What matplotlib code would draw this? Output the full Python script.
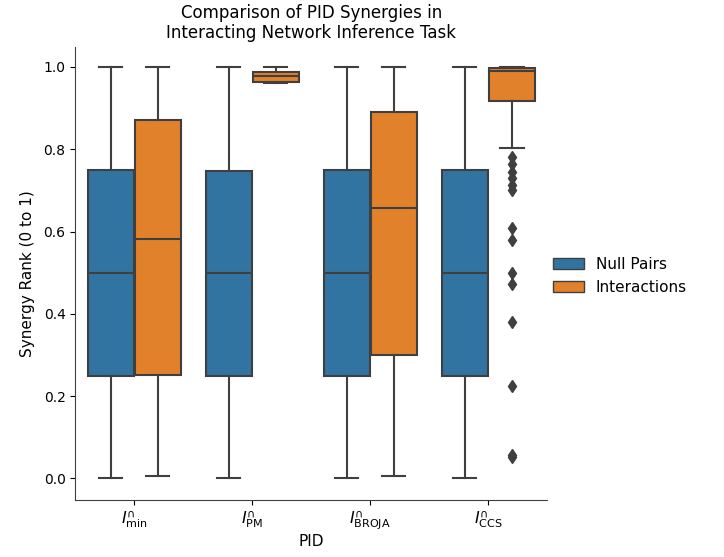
import matplotlib
matplotlib.use("Agg")
import matplotlib.pyplot as plt
from matplotlib.patches import Patch

# PID measures on the x axis
pids = [r"$I^{\cap}_{\mathrm{min}}$", r"$I^{\cap}_{\mathrm{PM}}$",
        r"$I^{\cap}_{\mathrm{BROJA}}$", r"$I^{\cap}_{\mathrm{CCS}}$"]
hues = ["Null Pairs", "Interactions"]

# box summaries: (whislo, q1, med, q3, whishi)
null_stats = [
    (0.0, 0.250, 0.500, 0.750, 1.0),
    (0.0, 0.250, 0.499, 0.748, 1.0),
    (0.0, 0.250, 0.500, 0.750, 1.0),
    (0.0, 0.250, 0.499, 0.749, 1.0),
]
inter_stats = [
    (0.005, 0.252, 0.583, 0.872, 1.0),
    (0.961, 0.963, 0.978, 0.988, 1.0),
    (0.007, 0.300, 0.658, 0.890, 1.0),
    (0.802, 0.917, 0.990, 0.997, 1.0),
]
inter_fliers = [
    [],
    [],
    [],
    [0.780, 0.765, 0.745, 0.730, 0.713, 0.701, 0.609, 0.580,
     0.500, 0.472, 0.379, 0.225, 0.058, 0.052],
]

blue = "#3274a1"
orange = "#e1812c"
gray = "#3f3f3f"


def to_bxp(stats, fliers=None):
    out = []
    for i, (lo, q1, med, q3, hi) in enumerate(stats):
        out.append(dict(whislo=lo, q1=q1, med=med, q3=q3, whishi=hi,
                        fliers=(fliers[i] if fliers else [])))
    return out


fig = plt.figure(figsize=(7.24, 5.57), dpi=100)
ax = fig.add_axes([0.104, 0.102, 0.652, 0.814])

lw = 1.5
for stats, fl, off, col in [(null_stats, None, -0.2, blue),
                            (inter_stats, inter_fliers, 0.2, orange)]:
    pos = [i + off for i in range(len(pids))]
    ax.bxp(to_bxp(stats, fl), positions=pos, widths=0.392,
           patch_artist=True, showfliers=True,
           boxprops=dict(facecolor=col, edgecolor=gray, linewidth=lw),
           medianprops=dict(color=gray, linewidth=lw),
           whiskerprops=dict(color=gray, linewidth=lw),
           capprops=dict(color=gray, linewidth=lw),
           flierprops=dict(marker="d", markerfacecolor=gray,
                           markeredgecolor=gray, markersize=6.5,
                           linestyle="none"))

ax.set_xticks(range(len(pids)))
ax.set_xticklabels(pids, fontsize=11.5)
ax.tick_params(axis="x", pad=2)
ax.set_xlim(-0.5, len(pids) - 0.5)
ax.set_ylim(-0.053, 1.049)
ax.set_yticks([0.0, 0.2, 0.4, 0.6, 0.8, 1.0])
ax.set_yticklabels(["0.0", "0.2", "0.4", "0.6", "0.8", "1.0"], fontsize=10)
ax.set_xlabel("PID", fontsize=11, labelpad=2)
ax.set_ylabel("Synergy Rank (0 to 1)", fontsize=11, labelpad=6)
ax.set_title("Comparison of PID Synergies in\nInteracting Network Inference Task",
             fontsize=12)
for s in ["top", "right"]:
    ax.spines[s].set_visible(False)
for s in ["left", "bottom"]:
    ax.spines[s].set_color(gray)

handles = [Patch(facecolor=blue, edgecolor=gray, label=hues[0]),
           Patch(facecolor=orange, edgecolor=gray, label=hues[1])]
fig.legend(handles=handles, loc="center left", bbox_to_anchor=(0.745, 0.505),
           frameon=False, fontsize=11)

fig.savefig("out.png", dpi=100)
